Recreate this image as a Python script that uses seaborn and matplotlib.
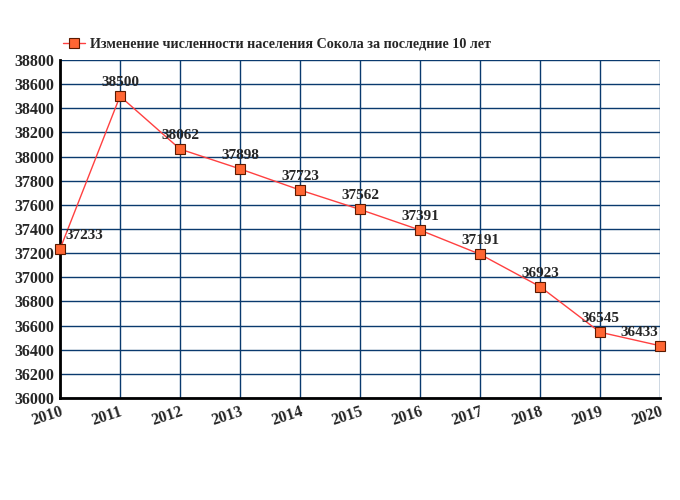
import numpy as np
import pandas as pd
import matplotlib
matplotlib.use("Agg")
import matplotlib.pyplot as plt
import seaborn as sns

# ---- Data
years = [2010, 2011, 2012, 2013, 2014, 2015, 2016, 2017, 2018, 2019, 2020]
population = [37233, 38500, 38062, 37898, 37723, 37562, 37391, 37191, 36923, 36545, 36433]
legend_label = "Изменение численности населения Сокола за последние 10 лет"

df = pd.DataFrame({"year": years, "population": population})

sns.set_style("white")
plt.rcParams["font.family"] = ["Liberation Serif", "DejaVu Serif"]
plt.rcParams["font.weight"] = "bold"

GRID = "#0a3a6e"
LINE = "#ff4040"
MARK = "#ff6633"

fig = plt.figure(figsize=(6.8, 5), dpi=100)
ax = fig.add_axes([60 / 680, 1 - 398 / 500, 600 / 680, 338 / 500])

sns.lineplot(data=df, x="year", y="population", ax=ax, color=LINE, lw=1,
             marker="s", markersize=7, markerfacecolor=MARK,
             markeredgecolor="#5a1a00", markeredgewidth=0.8,
             label=legend_label, clip_on=False, zorder=5)

ax.set_xlim(2010, 2020)
ax.set_ylim(36000, 38800)
ax.set_xticks(years)
ax.set_yticks(np.arange(36000, 38801, 200))
ax.grid(True, color=GRID, lw=1)
ax.set_axisbelow(True)
ax.set_xlabel("")
ax.set_ylabel("")

for s in ["top", "right"]:
    ax.spines[s].set_visible(False)
for s in ["left", "bottom"]:
    ax.spines[s].set_color("black")
    ax.spines[s].set_linewidth(2)

ax.tick_params(axis="both", length=2, width=1, color="black", labelsize=11.5, pad=2)
plt.setp(ax.get_yticklabels(), fontweight="bold")
plt.setp(ax.get_xticklabels(), fontweight="bold", rotation=18, ha="right",
         rotation_mode="anchor")

# data labels
for i, (x, y) in enumerate(zip(years, population)):
    if i == 0:
        dx, ha = 4, "left"
    elif i == len(years) - 1:
        dx, ha = -15, "center"
    else:
        dx, ha = 0, "center"
    ax.annotate(f"{y}", (x, y), xytext=(dx, 5), textcoords="offset points",
                ha=ha, va="bottom", fontsize=11, fontweight="bold", zorder=6)

leg = ax.legend(loc="lower left", bbox_to_anchor=(-0.005, 1.01), frameon=False,
                fontsize=10.2, handlelength=1.6, borderaxespad=0.2,
                handletextpad=0.35, borderpad=0.2)
for t in leg.get_texts():
    t.set_fontweight("bold")

plt.savefig("out.png", dpi=100)
plt.close()
